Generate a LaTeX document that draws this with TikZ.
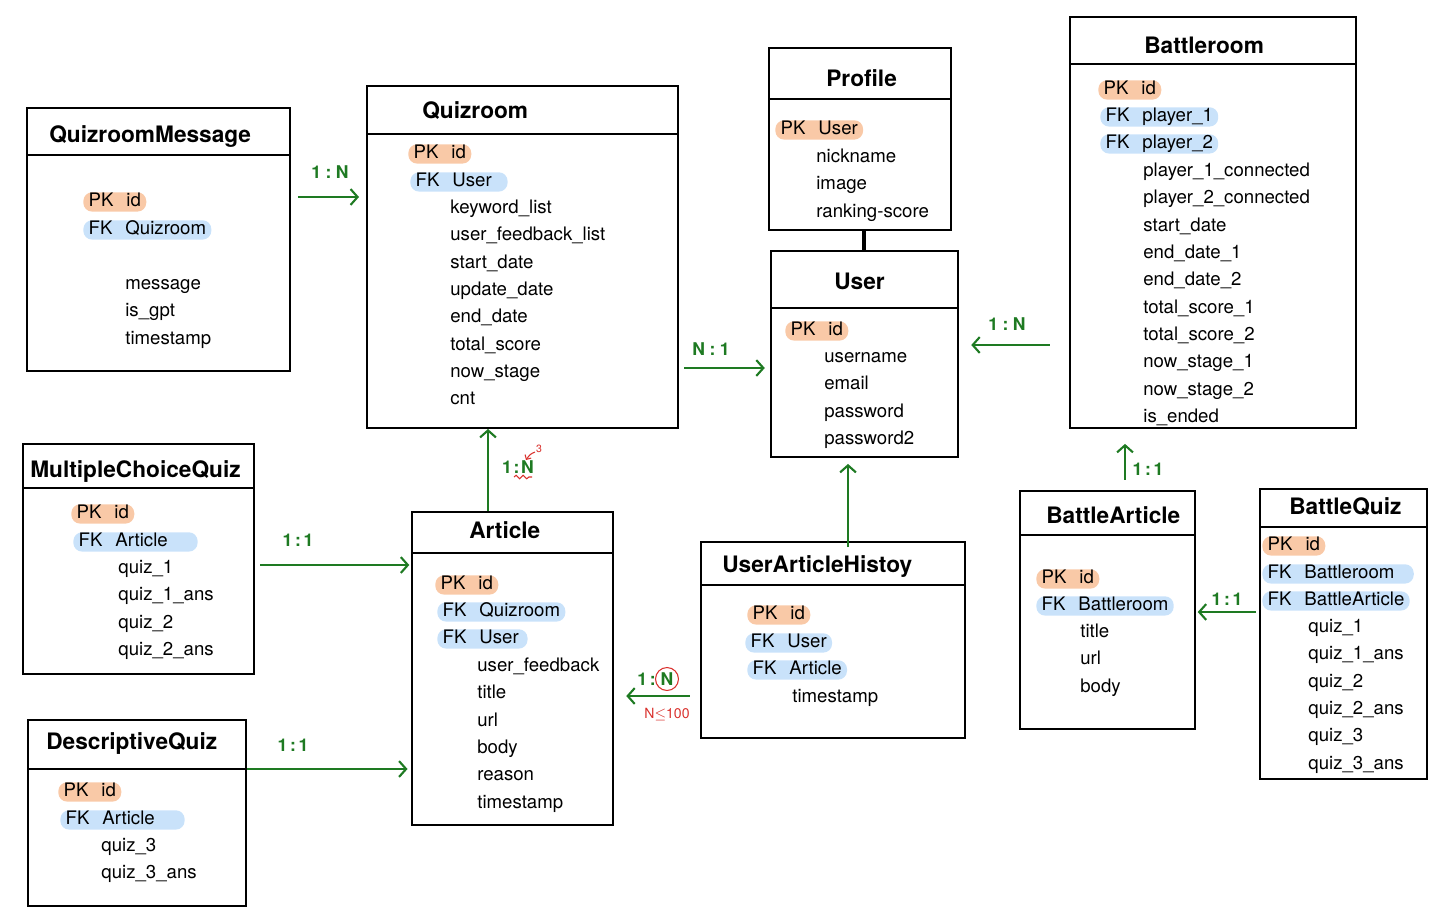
\documentclass[tikz,border=0pt]{standalone}
\usepackage{fontspec}
\setmainfont{TeX Gyre Heros}
\usetikzlibrary{arrows.meta,fit,decorations.pathmorphing}

\definecolor{pkfill}{HTML}{F9C9A7}
\definecolor{fkfill}{HTML}{C9E2FA}
\definecolor{relgreen}{HTML}{1E7A22}
\definecolor{notered}{HTML}{D9302C}

\newcommand{\kf}[2]{#1\hspace{0.7em}#2}

\tikzset{
  tbl/.style={draw, line width=1.1pt, inner sep=0pt},
  ttl/.style={anchor=west, inner sep=0pt, yshift=-1.4pt, font=\fontsize{12.9}{14}\selectfont\bfseries},
  field/.style={anchor=west, inner sep=0pt, yshift=-1.1pt, text height=7.6pt, text depth=2.2pt, font=\fontsize{10.6}{12}\selectfont},
  pk/.style={field, fill=pkfill, rounded corners=5pt, inner xsep=3pt, inner ysep=0.6pt},
  fk/.style={pk, fill=fkfill},
  rel/.style={draw=relgreen, line width=1.2pt, -{Straight Barb[length=4pt,width=9pt]}},
  card/.style={text=relgreen, inner sep=0pt, font=\fontsize{10}{11}\selectfont\bfseries}
}

\begin{document}
\begin{tikzpicture}[x=0.02cm, y=-0.02cm]

\useasboundingbox (0,0) rectangle (1440,917);

% QuizroomMessage
\node [tbl, fit={(27,108) (290,371)}] (qmsg) {};
\draw [line width=1.1pt] (qmsg.west |- 0,155) -- (qmsg.east |- 0,155);
\node [ttl] (qmsg-t) at (49,134) {QuizroomMessage};
\node [pk] (qmsg-pk) at (83,200) {\kf{PK}{id}};
\node [fk] (qmsg-fk) at (83,228) {\kf{FK}{Quizroom}};
\foreach \f [count=\i from 0] in {message, is\_gpt, timestamp}
  \node [field] (qmsg-f\i) at (125,283+27.3*\i) {\f};

% Quizroom
\node [tbl, fit={(367,86) (678,428)}] (qroom) {};
\draw [line width=1.1pt] (qroom.west |- 0,134) -- (qroom.east |- 0,134);
\node [ttl] (qroom-t) at (422,108) {Quizroom};
\node [pk] (qroom-pk) at (408,152) {\kf{PK}{id}};
\node [fk] (qroom-fk) at (410,180) {\kf{FK}{User}\hspace*{6pt}};
\foreach \f [count=\i from 0] in {keyword\_list, user\_feedback\_list, start\_date,
    update\_date, end\_date, total\_score, now\_stage, cnt}
  \node [field] (qroom-f\i) at (450,207+27.3*\i) {\f};

% Profile
\node [tbl, fit={(769,48) (951,230)}] (profile) {};
\draw [line width=1.1pt] (profile.west |- 0,99) -- (profile.east |- 0,99);
\node [ttl] (profile-t) at (826,76) {Profile};
\node [pk] (profile-pk) at (775,128) {\kf{PK}{User}};
\foreach \f [count=\i from 0] in {nickname, image, ranking-score}
  \node [field] (profile-f\i) at (816,156+27.3*\i) {\f};

% User
\node [tbl, fit={(771,251) (958,457)}] (user) {};
\draw [line width=1.1pt] (user.west |- 0,308) -- (user.east |- 0,308);
\node [ttl] (user-t) at (834,279) {User};
\node [pk] (user-pk) at (785,329) {\kf{PK}{id}};
\foreach \f [count=\i from 0] in {username, email, password, password2}
  \node [field] (user-f\i) at (824,356+27.3*\i) {\f};

% Profile -- User
\draw [line width=2.4pt] (profile.south -| 864,0) -- (user.north -| 864,0);

% Battleroom
\node [tbl, fit={(1070,17) (1356,428)}] (broom) {};
\draw [line width=1.1pt] (broom.west |- 0,64) -- (broom.east |- 0,64);
\node [ttl] (broom-t) at (1144,43) {Battleroom};
\node [pk] (broom-pk) at (1098,88) {\kf{PK}{id}};
\node [fk] (broom-fk1) at (1100,115) {\kf{FK}{player\_1}};
\node [fk] (broom-fk2) at (1100,142) {\kf{FK}{player\_2}};
\foreach \f [count=\i from 0] in {player\_1\_connected, player\_2\_connected, start\_date,
    end\_date\_1, end\_date\_2, total\_score\_1, total\_score\_2, now\_stage\_1,
    now\_stage\_2, is\_ended}
  \node [field] (broom-f\i) at (1143,170+27.3*\i) {\f};

% MultipleChoiceQuiz
\node [tbl, fit={(23,444) (254,674)}] (mcq) {};
\draw [line width=1.1pt] (mcq.west |- 0,488) -- (mcq.east |- 0,488);
\node [ttl] (mcq-t) at (30,469) {MultipleChoiceQuiz};
\node [pk] (mcq-pk) at (71,512) {\kf{PK}{id}};
\node [fk] (mcq-fk) at (73,540) {\kf{FK}{Article}\hspace*{14pt}};
\foreach \f [count=\i from 0] in {quiz\_1, quiz\_1\_ans, quiz\_2, quiz\_2\_ans}
  \node [field] (mcq-f\i) at (118,567+27.3*\i) {\f};

% DescriptiveQuiz
\node [tbl, fit={(28,720) (246,906)}] (dq) {};
\draw [line width=1.1pt] (dq.west |- 0,769) -- (dq.east |- 0,769);
\node [ttl] (dq-t) at (46,741) {DescriptiveQuiz};
\node [pk] (dq-pk) at (58,790) {\kf{PK}{id}};
\node [fk] (dq-fk) at (60,818) {\kf{FK}{Article}\hspace*{14pt}};
\foreach \f [count=\i from 0] in {quiz\_3, quiz\_3\_ans}
  \node [field] (dq-f\i) at (101,845+27.3*\i) {\f};

% Article
\node [tbl, fit={(412,512) (613,825)}] (article) {};
\draw [line width=1.1pt] (article.west |- 0,553) -- (article.east |- 0,553);
\node [ttl] (article-t) at (469,528) {Article};
\node [pk] (article-pk) at (435,583) {\kf{PK}{id}};
\node [fk] (article-fk1) at (437,610) {\kf{FK}{Quizroom}};
\node [fk] (article-fk2) at (437,637) {\kf{FK}{User}\hspace*{2pt}};
\foreach \f [count=\i from 0] in {user\_feedback, title, url, body, reason, timestamp}
  \node [field] (article-f\i) at (477,665+27.3*\i) {\f};

% UserArticleHistoy
\node [tbl, fit={(701,542) (965,738)}] (uah) {};
\draw [line width=1.1pt] (uah.west |- 0,585) -- (uah.east |- 0,585);
\node [ttl] (uah-t) at (722,564) {UserArticleHistoy};
\node [pk] (uah-pk) at (747,613) {\kf{PK}{id}};
\node [fk] (uah-fk1) at (745,641) {\kf{FK}{User}};
\node [fk] (uah-fk2) at (747,668) {\kf{FK}{Article}};
\node [field] (uah-f0) at (792,696) {timestamp};

% BattleArticle
\node [tbl, fit={(1020,491) (1195,729)}] (bart) {};
\draw [line width=1.1pt] (bart.west |- 0,535) -- (bart.east |- 0,535);
\node [ttl] (bart-t) at (1046,513) {BattleArticle};
\node [pk] (bart-pk) at (1036,577) {\kf{PK}{id}};
\node [fk] (bart-fk) at (1036,604) {\kf{FK}{Battleroom}};
\foreach \f [count=\i from 0] in {title, url, body}
  \node [field] (bart-f\i) at (1080,631+27.3*\i) {\f};

% BattleQuiz
\node [tbl, fit={(1260,489) (1427,779)}] (bquiz) {};
\draw [line width=1.1pt] (bquiz.west |- 0,527) -- (bquiz.east |- 0,527);
\node [ttl] (bquiz-t) at (1289,504) {BattleQuiz};
\node [pk] (bquiz-pk) at (1262,544) {\kf{PK}{id}};
\node [fk] (bquiz-fk1) at (1262,572) {\kf{FK}{Battleroom}\hspace*{8pt}};
\node [fk] (bquiz-fk2) at (1262,599) {\kf{FK}{BattleArticle}};
\foreach \f [count=\i from 0] in {quiz\_1, quiz\_1\_ans, quiz\_2, quiz\_2\_ans, quiz\_3, quiz\_3\_ans}
  \node [field] (bquiz-f\i) at (1308,626+27.3*\i) {\f};

% relations
\draw [rel, shorten <=4pt, shorten >=4pt] (qmsg.east |- 0,197) -- (qroom.west |- 0,197);
\node [card] (c-qmsg) at (330,172) {1\hspace{0.25em}:\hspace{0.25em}N};

\draw [rel, shorten <=3pt, shorten >=3pt] (qroom.east |- 0,368) -- (user.west |- 0,368);
\node [card] (c-qroom) at (711,349) {N\hspace{0.25em}:\hspace{0.25em}1};

\draw [rel, shorten <=11pt, shorten >=7pt] (broom.west |- 0,345) -- (user.east |- 0,345);
\node [card] (c-broom) at (1007,324) {1\hspace{0.25em}:\hspace{0.25em}N};

\draw [rel] (article.north -| 488,0) -- (qroom.south -| 488,0);
\node [card] (c-article) at (518,467) {1\hspace{0.1em}:\hspace{0.1em}N};

\draw [rel, shorten <=3pt, shorten >=1pt] (mcq.east |- 0,565) -- (article.west |- 0,565);
\node [card] (c-mcq) at (298,540) {1\hspace{0.15em}:\hspace{0.15em}1};

\draw [rel, shorten >=2pt] (dq.east |- 0,769) -- (article.west |- 0,769);
\node [card] (c-dq) at (293,745) {1\hspace{0.15em}:\hspace{0.15em}1};

\draw [rel, shorten <=6pt, shorten >=7pt] (uah.west |- 0,696) -- (article.east |- 0,696);
\node [card, anchor=east] (c-uah) at (656,679) {1\hspace{0.15em}:};
\node [card, circle, draw=notered, line width=0.6pt, inner sep=1pt] (c-uah-n) at (667,679) {N};

\draw [rel, shorten <=-3.4pt, shorten >=3.4pt] (uah.north -| 848,0) -- (user.south -| 848,0);

\draw [rel, shorten <=6pt, shorten >=8.5pt] (bart.north -| 1125,0) -- (broom.south -| 1125,0);
\node [card] (c-bart) at (1148,469) {1\hspace{0.15em}:\hspace{0.15em}1};

\draw [rel, shorten <=1.7pt, shorten >=1pt] (bquiz.west |- 0,612) -- (bart.east |- 0,612);
\node [card] (c-bquiz) at (1227,599) {1\hspace{0.15em}:\hspace{0.15em}1};

% red notes
\node [text=notered, inner sep=0pt, font=\fontsize{8}{9}\selectfont] (n-limit) at (667,715) {N$\leq$100};
\draw [notered, line width=0.6pt, decorate, decoration={snake, amplitude=1pt, segment length=4pt}]
  (514,477) -- (532,477);
\draw [notered, line width=0.6pt, -{Straight Barb[length=2pt,width=4pt]}] (535,452) to [out=200, in=60] (526,460);
\node [text=notered, inner sep=0pt, font=\fontsize{6}{7}\selectfont] (n-three) at (539,449) {3};

\end{tikzpicture}
\end{document}
